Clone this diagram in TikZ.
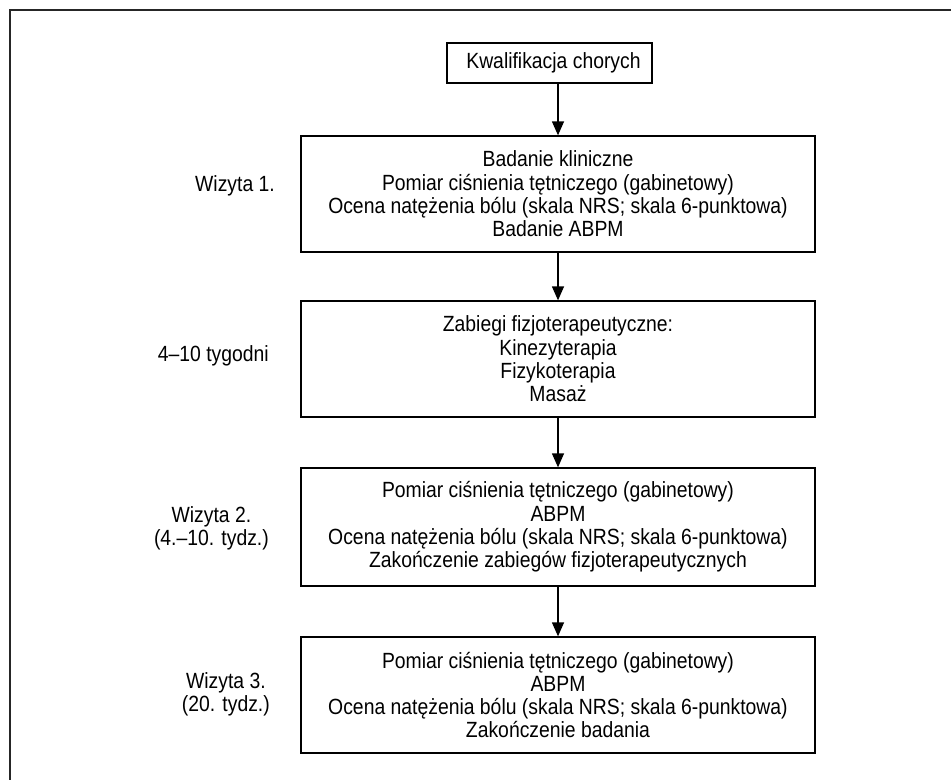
\documentclass[tikz,border=0pt]{standalone}
\usepackage{fontspec}
\setmainfont{Liberation Sans}[FakeStretch=0.88]
\usetikzlibrary{arrows.meta}
\begin{document}
\begin{tikzpicture}[x=1pt,y=-1pt,
  every node/.style={font=\fontsize{22}{23.3}\selectfont, align=center, inner sep=0pt},
  stagebox/.style={draw, line width=1.3pt, minimum width=514pt, minimum height=116pt},
  topbox/.style={draw, line width=1.3pt, minimum width=205pt, minimum height=40pt},
  flow/.style={line width=1.3pt, -{Triangle[width=12pt,length=14pt]}},
  sidelabel/.style={anchor=east}]
\useasboundingbox (0,0) rectangle (951,780);
\draw[line width=2.2pt, color=black!85] (951,10) -- (10,10) -- (10,780);
\node[topbox] (kw) at (549.5,63) {\hspace*{8pt}Kwalifikacja chorych};
\node[stagebox] (b1) at (558,194) {Badanie kliniczne\\Pomiar ciśnienia tętniczego (gabinetowy)\\Ocena natężenia bólu (skala NRS; skala 6-punktowa)\\Badanie ABPM};
\node[stagebox] (b2) at (558,359) {Zabiegi fizjoterapeutyczne:\\Kinezyterapia\\Fizykoterapia\\Masaż};
\node[stagebox, minimum height=118pt] (b3) at (558,527) {Pomiar ciśnienia tętniczego (gabinetowy)\\ABPM\\Ocena natężenia bólu (skala NRS; skala 6-punktowa)\\Zakończenie zabiegów fizjoterapeutycznych};
\node[stagebox] (b4) at (558,695) {Pomiar ciśnienia tętniczego (gabinetowy)\\ABPM\\Ocena natężenia bólu (skala NRS; skala 6-punktowa)\\Zakończenie badania};
\node[sidelabel] (l1) at (275,186) {Wizyta 1.};
\node[sidelabel] (l2) at (269,356) {4–10 tygodni};
\node[sidelabel] (l3) at (269,528) {Wizyta 2.\\(4.–10. tydz.)};
\node[sidelabel] (l4) at (270,694) {Wizyta 3.\\(20. tydz.)};
\draw[flow] (kw.south -| b1.north) -- (b1.north);
\draw[flow] (b1) -- (b2);
\draw[flow] (b2) -- (b3);
\draw[flow] (b3) -- (b4);
\end{tikzpicture}
\end{document}
